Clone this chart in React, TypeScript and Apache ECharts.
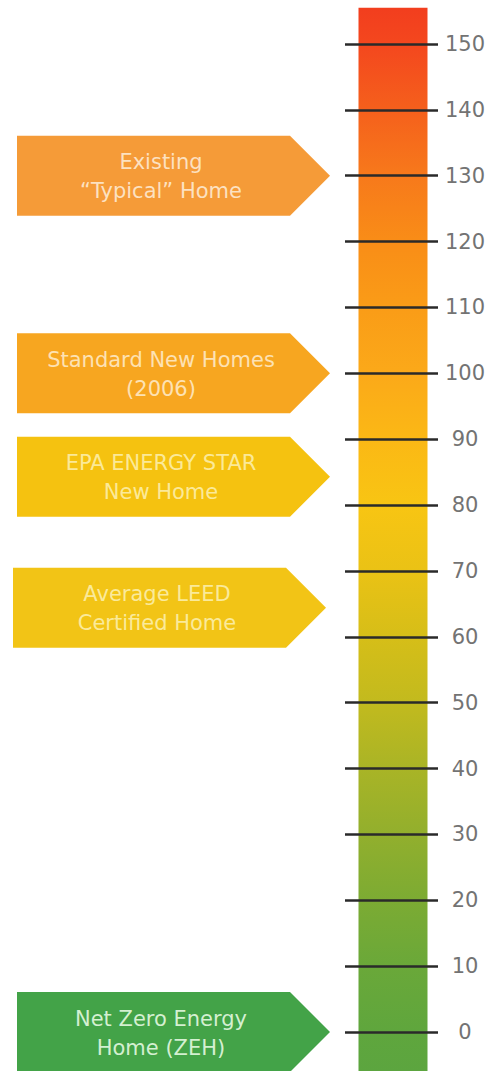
import React, { useEffect, useRef } from "react";
import * as echarts from "echarts";

// ---- data ----
const TICK_MIN = 0;
const TICK_MAX = 150;
const TICK_STEP = 10;
const SCALE_BAR = [[0, -6, 155.5]]; // [category index, bottom value, top value]
const HOME_LABELS = [
  "Existing\n\u201cTypical\u201d Home",
  "Standard New Homes\n(2006)",
  "EPA ENERGY STAR\nNew Home",
  "Average LEED\nCertified Home",
  "Net Zero Energy\nHome (ZEH)",
];
const HOME_VALUES = [130, 100, 84.3, 64.4, 0];

// ---- styles ----
const HOME_COLORS = ["#F59B38", "#F7A620", "#F5C210", "#F2C416", "#43A348"];
const HOME_SHIFT = [0, 0, 0, -4, 0];
const HOME_TEXT = [
  "rgba(255,246,232,0.78)",
  "rgba(255,246,228,0.76)",
  "rgba(255,252,215,0.7)",
  "rgba(255,252,215,0.7)",
  "rgba(240,255,235,0.85)",
];
const GRADIENT: [number, string][] = [
  [155.5, "#F23E1E"],
  [150, "#F4471E"],
  [140, "#F5601C"],
  [130, "#F7791B"],
  [120, "#F98D17"],
  [110, "#FA9C17"],
  [100, "#FBA919"],
  [90, "#FBB815"],
  [80, "#F8C513"],
  [70, "#EAC215"],
  [60, "#D6BE18"],
  [50, "#C2BA1E"],
  [40, "#A9B426"],
  [30, "#92AF2D"],
  [20, "#7CAB33"],
  [10, "#6AA839"],
  [0, "#5FA63D"],
  [-6, "#5CA53F"],
];

export default function App() {
  const ref = useRef<HTMLDivElement>(null);
  useEffect(() => {
    document.body.style.margin = "0";
    if (!ref.current) return;
    const chart = echarts.init(ref.current, undefined, { renderer: "svg" });
    const top = SCALE_BAR[0][2];
    const bottom = SCALE_BAR[0][1];
    const stops = GRADIENT.map(([v, c]) => ({
      offset: (top - v) / (top - bottom),
      color: c,
    }));
    chart.setOption({
      animation: false,
      grid: { left: 348, right: 55, top: 44, bottom: 39, containLabel: false },
      xAxis: {
        type: "category",
        data: ["scale"],
        show: false,
      },
      yAxis: {
        type: "value",
        position: "right",
        min: TICK_MIN,
        max: TICK_MAX,
        interval: TICK_STEP,
        z: 10,
        axisLine: { show: false },
        splitLine: { show: false },
        axisTick: {
          show: true,
          inside: true,
          length: 93,
          lineStyle: { color: "#2a2a2a", width: 2.5 },
        },
        axisLabel: {
          margin: 27,
          align: "center",
          color: "#737373",
          fontSize: 21,
          fontFamily: "DejaVu Sans",
        },
      },
      series: [
        {
          type: "custom",
          data: SCALE_BAR,
          encode: { x: 0, y: [1, 2] },
          z: 2,
          clip: false,
          renderItem: (params: any, api: any) => {
            const p1 = api.coord([api.value(0), api.value(2)]);
            const p0 = api.coord([api.value(0), api.value(1)]);
            const w = 69;
            return {
              type: "rect",
              shape: { x: p1[0] - w / 2, y: p1[1], width: w, height: p0[1] - p1[1] },
              style: {
                fill: new echarts.graphic.LinearGradient(0, 0, 0, 1, stops),
              },
            };
          },
        },
        {
          type: "custom",
          data: HOME_VALUES.map((v, i) => [0, v, i]),
          encode: { x: 0, y: 1 },
          z: 3,
          clip: false,
          renderItem: (params: any, api: any) => {
            const idx = params.dataIndex;
            const p = api.coord([api.value(0), api.value(1)]);
            const ty = p[1];
            const dx = HOME_SHIFT[idx];
            const tipX = 330 + dx;
            const bodyX = 290 + dx;
            const leftX = 17 + dx;
            const half = 40;
            return {
              type: "group",
              children: [
                {
                  type: "polygon",
                  shape: {
                    points: [
                      [leftX, ty - half],
                      [bodyX, ty - half],
                      [tipX, ty],
                      [bodyX, ty + half],
                      [leftX, ty + half],
                    ],
                  },
                  style: { fill: HOME_COLORS[idx] },
                },
                {
                  type: "text",
                  x: 161 + dx,
                  y: ty + 1,
                  style: {
                    text: HOME_LABELS[idx],
                    fill: HOME_TEXT[idx],
                    fontSize: 21,
                    fontFamily: "DejaVu Sans",
                    lineHeight: 29,
                    align: "center",
                    verticalAlign: "middle",
                  },
                },
              ],
            };
          },
        },
      ],
    });
    return () => chart.dispose();
  }, []);
  return (
    <div
      ref={ref}
      style={{ position: "absolute", left: 0, top: 0, width: 493, height: 1071 }}
    />
  );
}
